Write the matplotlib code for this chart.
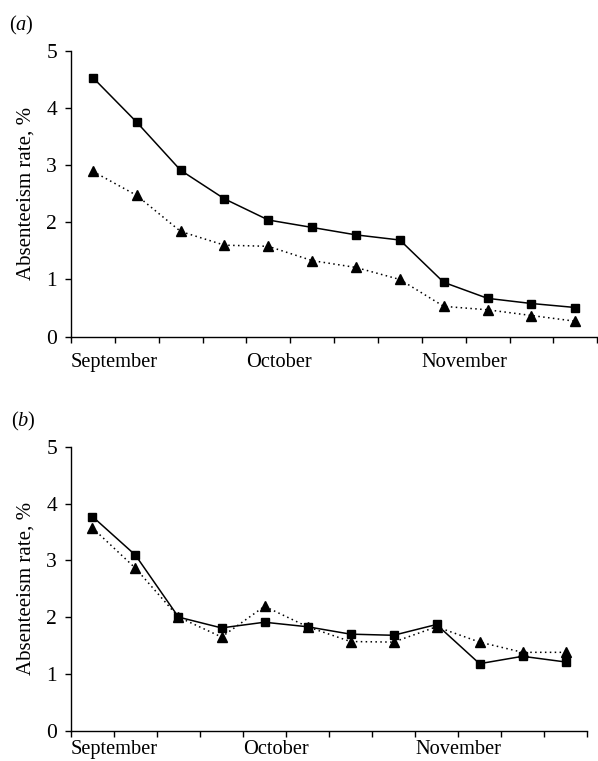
import matplotlib.pyplot as plt
from matplotlib.transforms import blended_transform_factory

plt.rcParams['font.family'] = ['Liberation Serif', 'DejaVu Serif']
plt.rcParams['mathtext.fontset'] = 'custom'
plt.rcParams['mathtext.it'] = 'Liberation Serif:italic'
plt.rcParams['mathtext.rm'] = 'Liberation Serif'

# 12 weekly points, Sept -> Nov
weeks = [0.5 + i for i in range(12)]
months = ['September', 'October', 'November']
month_pos = [0, 4, 8]

# panel (a)
a_square = [4.53, 3.75, 2.91, 2.41, 2.04, 1.91, 1.78, 1.69, 0.95, 0.67, 0.58, 0.51]
a_triangle = [2.89, 2.47, 1.84, 1.60, 1.58, 1.33, 1.21, 1.00, 0.53, 0.47, 0.37, 0.27]

# panel (b)
b_square = [3.77, 3.09, 2.00, 1.81, 1.91, 1.83, 1.70, 1.68, 1.87, 1.18, 1.31, 1.21]
b_triangle = [3.57, 2.86, 2.00, 1.65, 2.19, 1.83, 1.57, 1.56, 1.83, 1.56, 1.38, 1.38]

fig = plt.figure(figsize=(5.98, 7.61), dpi=100)
ax_a = fig.add_axes([0.1187, 0.5576, 0.880, 0.3757])
ax_b = fig.add_axes([0.1187, 0.0398, 0.863, 0.3732])


def draw(ax, sq, tri, label, month_y):
    ax.plot(weeks, sq, color='black', lw=1.1, marker='s', ms=5.5, zorder=3)
    ax.plot(weeks, tri, color='black', lw=1.1, ls=(0, (1, 2.2)), marker='^',
            ms=6.5, zorder=3)
    ax.set_xlim(0, 12)
    ax.set_ylim(0, 5)
    ax.set_xticks(range(13))
    ax.set_xticklabels([])
    ax.set_yticks(range(6))
    ax.tick_params(direction='out', length=4, width=1, labelsize=15.5, pad=6)
    for s in ['top', 'right']:
        ax.spines[s].set_visible(False)
    for s in ['left', 'bottom']:
        ax.spines[s].set_linewidth(1)
    ax.set_ylabel('Absenteeism rate, %', fontsize=15, labelpad=8)
    tr = blended_transform_factory(ax.transData, ax.transAxes)
    for m, p in zip(months, month_pos):
        ax.text(p, month_y, m, transform=tr, ha='left', va='center', fontsize=14.7)
    ax.text(-0.117, 1.09, '(' + r'$\it{' + label + '}$' + ')', transform=ax.transAxes,
            ha='left', va='center', fontsize=14.7)


draw(ax_a, a_square, a_triangle, 'a', -0.09)
draw(ax_b, b_square, b_triangle, 'b', -0.066)

fig.savefig('out.png', dpi=100)
